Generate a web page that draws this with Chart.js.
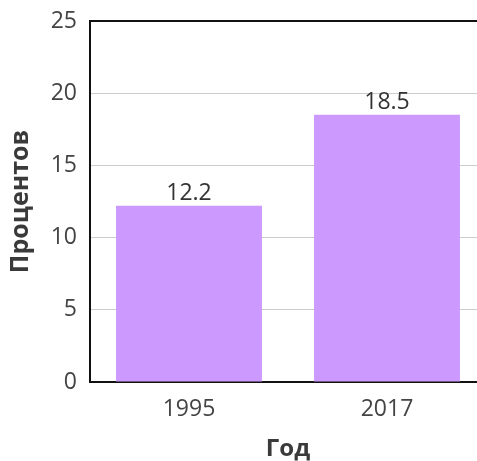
<!DOCTYPE html>
<html>
<head>
<meta charset="utf-8">
<script src="https://cdn.jsdelivr.net/npm/chart.js@4"></script>
<style>
    html, body { margin: 0; padding: 0; background: #fff; overflow: hidden; }
    #wrap { position: absolute; left: 0; top: 0; width: 486px; height: 461px; }
</style>
</head>
<body>
<div id="wrap"><canvas id="chart" width="486" height="461"></canvas></div>
<script>
// Gegevens van de grafiek
const years = ['1995', '2017'];
const percents = [12.2, 18.5];
const yTicks = [0, 5, 10, 15, 20, 25];

const fontFamily = "'Open Sans', sans-serif";

// Eenvoudige plugin om de waarden boven de staven te tekenen
const valueLabels = {
    id: 'valueLabels',
    afterDatasetsDraw(chart) {
        const ctx = chart.ctx;
        const meta = chart.getDatasetMeta(0);
        ctx.save();
        ctx.font = '23px ' + fontFamily;
        ctx.fillStyle = '#333';
        ctx.textAlign = 'center';
        ctx.textBaseline = 'alphabetic';
        meta.data.forEach((bar, i) => {
            ctx.fillText(percents[i].toFixed(1), bar.x, bar.y - 6);
        });
        ctx.restore();
    }
};

const ctx = document.getElementById('chart').getContext('2d');

new Chart(ctx, {
    type: 'bar',
    data: {
        labels: years,
        datasets: [{
            data: percents,
            backgroundColor: '#cc99ff',
            borderWidth: 0,
            categoryPercentage: 1,
            barPercentage: 0.737
        }]
    },
    options: {
        responsive: false,
        animation: false,
        layout: {
            padding: { top: 21, right: 0, bottom: 0, left: 0 }
        },
        plugins: {
            legend: { display: false },
            tooltip: { enabled: false }
        },
        scales: {
            x: {
                afterFit: scale => {
                    scale.height = 79; // as op y = 382
                },
                grid: { display: false, drawTicks: false },
                border: { color: '#111', width: 2 },
                ticks: {
                    color: '#444',
                    padding: 14,
                    font: { family: fontFamily, size: 23 }
                },
                title: {
                    display: true,
                    text: 'Год',
                    color: '#3a3a3a',
                    padding: { top: 0, bottom: 0 },
                    font: { family: fontFamily, size: 24, weight: 'bold', lineHeight: 1 }
                }
            },
            y: {
                min: 0,
                max: 25,
                afterBuildTicks: axis => {
                    axis.ticks = yTicks.map(v => ({ value: v }));
                },
                afterFit: scale => {
                    scale.width = 90;
                    scale.paddingTop = 0;
                    scale.paddingBottom = 0;
                },
                grid: {
                    drawTicks: false,
                    color: c => (c.tick && c.tick.value === 25) ? '#111' : '#cccccc',
                    lineWidth: c => (c.tick && c.tick.value === 25) ? 2 : 1
                },
                border: { color: '#111', width: 2 },
                ticks: {
                    color: '#444',
                    padding: 13,
                    font: { family: fontFamily, size: 23 }
                },
                title: {
                    display: true,
                    text: 'Процентов',
                    color: '#3a3a3a',
                    padding: { top: 6, bottom: 0 },
                    font: { family: fontFamily, size: 25, weight: 'bold' }
                }
            }
        }
    },
    plugins: [valueLabels]
});
</script>
</body>
</html>
